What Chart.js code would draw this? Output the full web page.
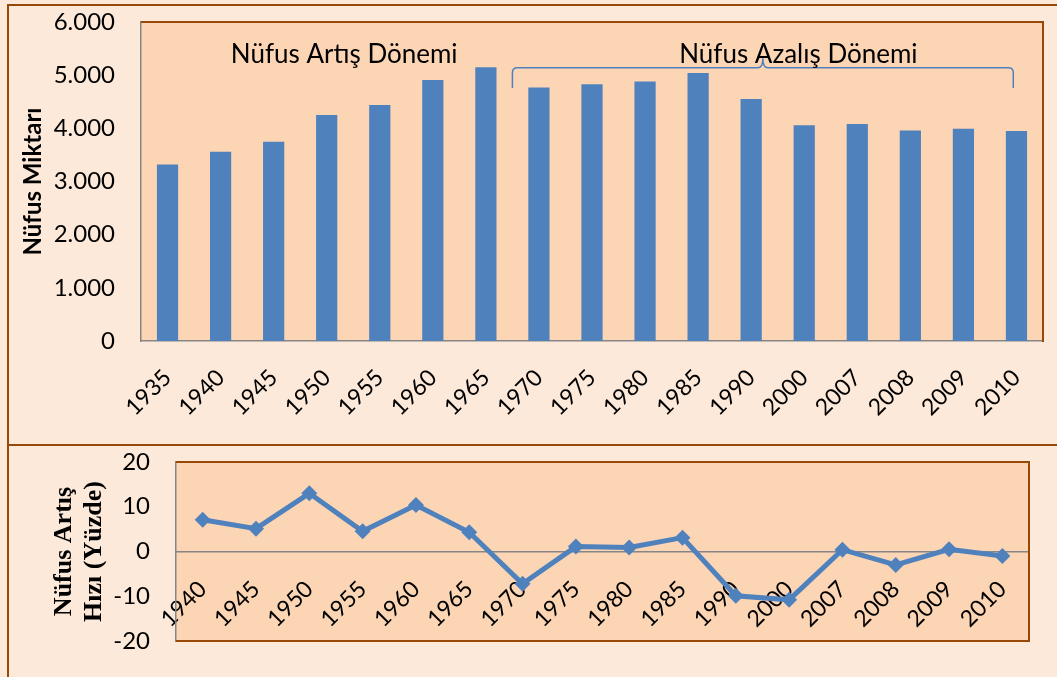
<!DOCTYPE html>
<html><head><meta charset="utf-8">
<script src="https://cdn.jsdelivr.net/npm/chart.js@4.4.0/dist/chart.umd.min.js"></script>
<style>
html,body{margin:0;padding:0;background:#FDE9D9;width:1057px;height:677px;overflow:hidden;}
#wrap{position:relative;width:1057px;height:677px;}
canvas{position:absolute;left:0;}
#c1{top:0}
#c2{top:445px}
.frame{position:absolute;border-color:#984807;border-style:solid;}
</style></head><body>
<div id="wrap">
<canvas id="c1" width="1057" height="445"></canvas>
<canvas id="c2" width="1057" height="232"></canvas>
<div class="frame" style="left:7px;top:4px;width:1100px;height:439px;border-width:2px 0 0 2px"></div>
<div class="frame" style="left:7px;top:444px;width:1100px;height:300px;border-width:2px 0 0 2px"></div>
</div>
<script>
// ---- data ----
const years = ['1935','1940','1945','1950','1955','1960','1965','1970','1975','1980','1985','1990','2000','2007','2008','2009','2010'];
const population = [3320,3560,3750,4250,4440,4910,5150,4770,4830,4880,5040,4550,4060,4080,3960,3990,3950];
const rateYears = ['1940','1945','1950','1955','1960','1965','1970','1975','1980','1985','1990','2000','2007','2008','2009','2010'];
const growthRate = [7.1,5.1,13.0,4.5,10.4,4.3,-7.2,1.1,0.9,3.1,-9.9,-10.8,0.4,-3.0,0.5,-1.0];
const popTicks = [0,1000,2000,3000,4000,5000,6000];
const popTickLabels = ['0','1.000','2.000','3.000','4.000','5.000','6.000'];
const rateTicks = [-20,-10,0,10,20];
const rateTickLabels = ['-20','-10','0','10','20'];
// annotations (in category index / value units)
const noteTexts = ['Nüfus Artış Dönemi','Nüfus Azalış Dönemi'];
const noteIndex = [3.33, 11.89];
const noteValue = 5235;
const bracketSpan = [6.5, 15.94];
const bracketLevels = [4760, 5140, 5320];

Chart.defaults.font.family = 'Lato, "Open Sans", sans-serif';
Chart.defaults.color = '#000';

const BROWN = '#984807', GREY = '#868686', BLUE = '#4F81BD';

const plotArea = {
  id: 'plotArea',
  beforeDraw(chart, args, o) {
    const {ctx, chartArea: a} = chart;
    ctx.save();
    ctx.fillStyle = o.fill;
    ctx.fillRect(a.left, a.top, a.width, a.height);
    ctx.restore();
  },
  afterDraw(chart, args, o) {
    const {ctx, chartArea: a} = chart;
    ctx.save();
    ctx.strokeStyle = BROWN; ctx.lineWidth = 2;
    ctx.beginPath();
    if (o.sides.includes('top')) { ctx.moveTo(a.left, a.top); ctx.lineTo(a.right, a.top); }
    if (o.sides.includes('right')) { ctx.moveTo(a.right, a.top - 1); ctx.lineTo(a.right, a.bottom + 1); }
    if (o.sides.includes('bottom')) { ctx.moveTo(a.left, a.bottom); ctx.lineTo(a.right + 1, a.bottom); }
    ctx.stroke();
    ctx.restore();
  }
};

const periodNotes = {
  id: 'periodNotes',
  afterDatasetsDraw(chart) {
    const {ctx, scales: {x, y}} = chart;
    ctx.save();
    ctx.strokeStyle = BLUE; ctx.lineWidth = 1.5;
    const x0 = x.getPixelForValue(bracketSpan[0]), x1 = x.getPixelForValue(bracketSpan[1]);
    const yEnd = y.getPixelForValue(bracketLevels[0]), yBar = y.getPixelForValue(bracketLevels[1]), yPeak = y.getPixelForValue(bracketLevels[2]);
    const xm = (x0 + x1) / 2, r = 5;
    ctx.beginPath();
    ctx.moveTo(x0, yEnd);
    ctx.lineTo(x0, yBar + r);
    ctx.quadraticCurveTo(x0, yBar, x0 + r, yBar);
    ctx.lineTo(xm - r, yBar);
    ctx.quadraticCurveTo(xm, yBar, xm, yPeak);
    ctx.quadraticCurveTo(xm, yBar, xm + r, yBar);
    ctx.lineTo(x1 - r, yBar);
    ctx.quadraticCurveTo(x1, yBar, x1, yBar + r);
    ctx.lineTo(x1, yEnd);
    ctx.stroke();
    ctx.fillStyle = '#000';
    ctx.font = '26px Lato, "Open Sans", sans-serif';
    ctx.textAlign = 'center';
    ctx.textBaseline = 'alphabetic';
    noteTexts.forEach((t, i) => ctx.fillText(t, x.getPixelForValue(noteIndex[i]), y.getPixelForValue(noteValue)));
    ctx.restore();
  }
};

const fixY = w => s => { s.width = w; s.paddingTop = 0; s.paddingBottom = 0; };

new Chart(document.getElementById('c1'), {
  type: 'bar',
  data: { labels: years, datasets: [{ data: population, backgroundColor: BLUE, barPercentage: 0.4, categoryPercentage: 1.0 }] },
  options: {
    responsive: false, animation: false, devicePixelRatio: 1,
    layout: { padding: { top: 22, right: 14, left: 0, bottom: 0 } },
    plugins: { legend: { display: false }, tooltip: { enabled: false }, plotArea: { fill: '#FCD5B5', sides: ['top', 'right'] } },
    scales: {
      x: {
        grid: { display: false },
        border: { display: true, color: GREY, width: 1.5 },
        ticks: { font: { size: 23 }, minRotation: 45, maxRotation: 45, autoSkip: false, padding: 15 },
        afterFit: s => { s.height = 104; s.paddingLeft = 0; s.paddingRight = 0; }
      },
      y: {
        min: 0, max: 6000,
        grid: { display: false, drawTicks: false },
        border: { display: true, color: GREY, width: 1.5 },
        ticks: { font: { size: 24 }, stepSize: 1000, padding: 26, callback: v => popTickLabels[popTicks.indexOf(v)] },
        title: { display: true, text: 'Nüfus Miktarı', font: { size: 24, weight: 'bold' }, padding: { top: 19, bottom: 0 } },
        afterFit: fixY(141)
      }
    }
  },
  plugins: [plotArea, periodNotes]
});

new Chart(document.getElementById('c2'), {
  type: 'line',
  data: { labels: rateYears, datasets: [{
    data: growthRate, borderColor: BLUE, backgroundColor: BLUE, borderWidth: 5,
    pointStyle: 'rectRot', pointRadius: 8, pointBorderWidth: 0, pointBackgroundColor: BLUE, tension: 0
  }] },
  options: {
    responsive: false, animation: false, devicePixelRatio: 1,
    layout: { padding: { top: 17, right: 28, left: 0, bottom: 36 } },
    plugins: { legend: { display: false }, tooltip: { enabled: false }, plotArea: { fill: '#FCD5B5', sides: ['top', 'right', 'bottom'] } },
    scales: {
      x: {
        position: { y: 0 }, offset: true, z: 1,
        grid: { display: false },
        border: { display: true, color: GREY, width: 1.5 },
        ticks: { font: { size: 23 }, minRotation: 45, maxRotation: 45, autoSkip: false, padding: 16 },
        afterFit: s => { s.height = 0; s.paddingLeft = 0; s.paddingRight = 0; }
      },
      y: {
        min: -20, max: 20,
        grid: { display: false, drawTicks: false },
        border: { display: true, color: GREY, width: 1.5 },
        ticks: { font: { size: 24 }, stepSize: 10, padding: 26, callback: v => rateTickLabels[rateTicks.indexOf(v)] },
        title: { display: true, text: ['Nüfus Artış', 'Hızı (Yüzde)'], font: { family: '"Liberation Serif", "Times New Roman", serif', size: 26, weight: 'bold', lineHeight: 1.15 }, padding: { top: 49, bottom: 0 } },
        afterFit: fixY(176)
      }
    }
  },
  plugins: [plotArea]
});
</script>
</body></html>
